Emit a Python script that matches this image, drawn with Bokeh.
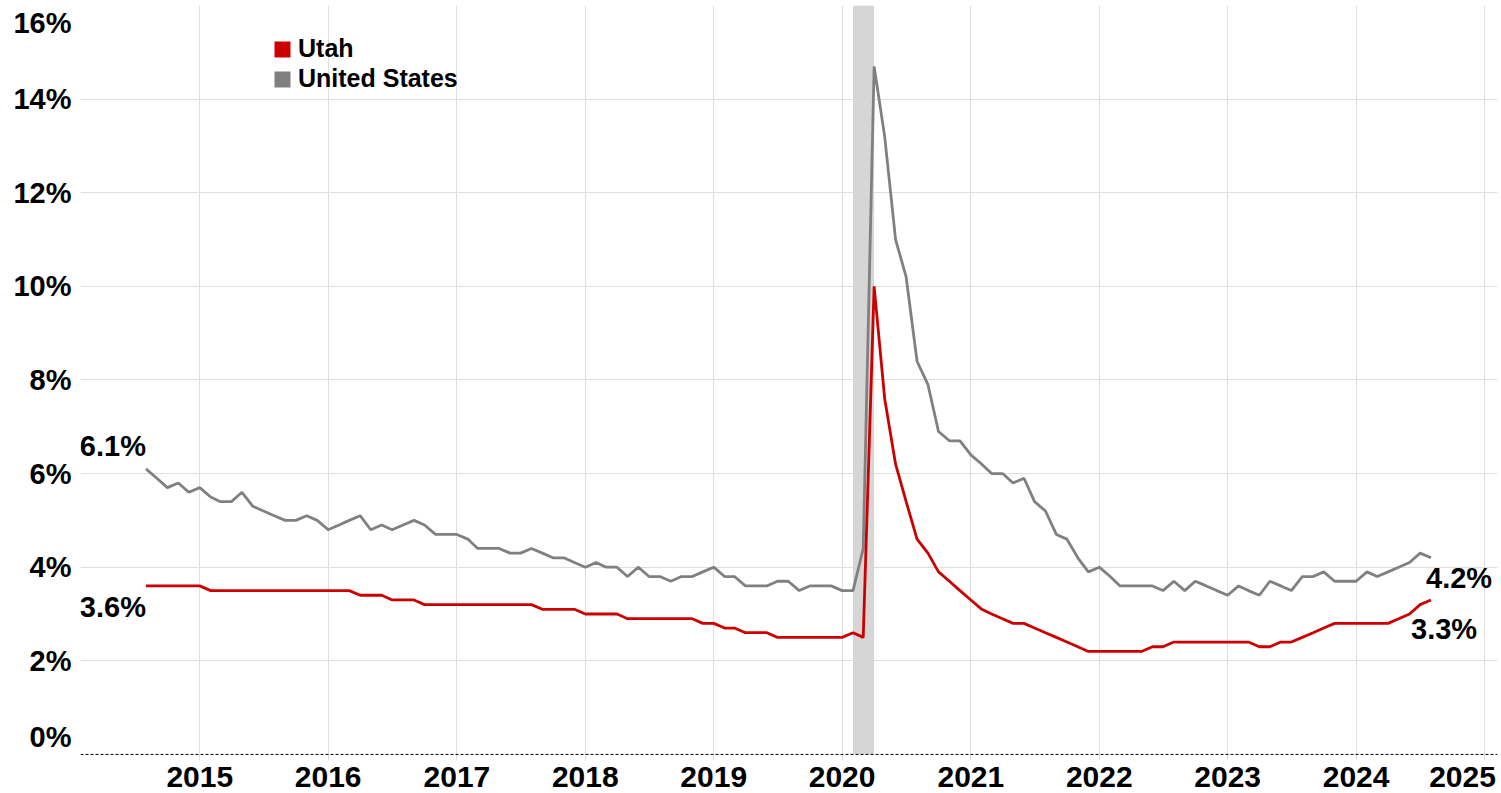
import numpy as np
import pandas as pd
from bokeh.plotting import figure
from bokeh.models import (Range1d, FixedTicker, DatetimeTickFormatter, PrintfTickFormatter,
                          Span, Label, Legend, LegendItem, ColumnDataSource)
from bokeh.embed import file_html
from bokeh.resources import INLINE

# ---------------- data ----------------
start_month = "2014-08-01"
end_month = "2024-08-01"

us_rate = [
    6.1, 5.9, 5.7, 5.8, 5.6,
    5.7, 5.5, 5.4, 5.4, 5.6, 5.3, 5.2, 5.1, 5.0, 5.0, 5.1, 5.0,
    4.8, 4.9, 5.0, 5.1, 4.8, 4.9, 4.8, 4.9, 5.0, 4.9, 4.7, 4.7,
    4.7, 4.6, 4.4, 4.4, 4.4, 4.3, 4.3, 4.4, 4.3, 4.2, 4.2, 4.1,
    4.0, 4.1, 4.0, 4.0, 3.8, 4.0, 3.8, 3.8, 3.7, 3.8, 3.8, 3.9,
    4.0, 3.8, 3.8, 3.6, 3.6, 3.6, 3.7, 3.7, 3.5, 3.6, 3.6, 3.6,
    3.5, 3.5, 4.4, 14.7, 13.2, 11.0, 10.2, 8.4, 7.9, 6.9, 6.7, 6.7,
    6.4, 6.2, 6.0, 6.0, 5.8, 5.9, 5.4, 5.2, 4.7, 4.6, 4.2, 3.9,
    4.0, 3.8, 3.6, 3.6, 3.6, 3.6, 3.5, 3.7, 3.5, 3.7, 3.6, 3.5,
    3.4, 3.6, 3.5, 3.4, 3.7, 3.6, 3.5, 3.8, 3.8, 3.9, 3.7, 3.7,
    3.7, 3.9, 3.8, 3.9, 4.0, 4.1, 4.3, 4.2,
]

utah_rate = [
    3.6, 3.6, 3.6, 3.6, 3.6,
    3.6, 3.5, 3.5, 3.5, 3.5, 3.5, 3.5, 3.5, 3.5, 3.5, 3.5, 3.5,
    3.5, 3.5, 3.5, 3.4, 3.4, 3.4, 3.3, 3.3, 3.3, 3.2, 3.2, 3.2,
    3.2, 3.2, 3.2, 3.2, 3.2, 3.2, 3.2, 3.2, 3.1, 3.1, 3.1, 3.1,
    3.0, 3.0, 3.0, 3.0, 2.9, 2.9, 2.9, 2.9, 2.9, 2.9, 2.9, 2.8,
    2.8, 2.7, 2.7, 2.6, 2.6, 2.6, 2.5, 2.5, 2.5, 2.5, 2.5, 2.5,
    2.5, 2.6, 2.5, 10.0, 7.6, 6.2, 5.4, 4.6, 4.3, 3.9, 3.7, 3.5,
    3.3, 3.1, 3.0, 2.9, 2.8, 2.8, 2.7, 2.6, 2.5, 2.4, 2.3, 2.2,
    2.2, 2.2, 2.2, 2.2, 2.2, 2.3, 2.3, 2.4, 2.4, 2.4, 2.4, 2.4,
    2.4, 2.4, 2.4, 2.3, 2.3, 2.4, 2.4, 2.5, 2.6, 2.7, 2.8, 2.8,
    2.8, 2.8, 2.8, 2.8, 2.9, 3.0, 3.2, 3.3,
]

series_names = ["Utah", "United States"]
series_colors = ["#cc0000", "#808080"]

recession_start = "2020-02-01"
recession_end = "2020-04-01"

tick_years = list(range(2015, 2026))
y_ticks = [0, 2, 4, 6, 8, 10, 12, 14, 16]

# ---------------- build ----------------
dates = pd.date_range(start_month, end_month, freq="MS")
src = ColumnDataSource(dict(date=dates, us=us_rate, utah=utah_rate))

def ms(ts):
    return float(pd.Timestamp(ts).value // 10**6)

FONT = "Liberation Sans"
W, H = 1501, 793
B_LEFT, B_RIGHT, B_TOP, B_BOTTOM = 80, 4, 5, 33
FRAME_W = W - B_LEFT - B_RIGHT
FRAME_H = H - B_TOP - B_BOTTOM

x_start = ms("2014-01-27")
x_end = ms("2025-02-06")
y_start, y_end = -0.13, 16

p = figure(width=W, height=H, x_axis_type="datetime",
           x_range=Range1d(x_start, x_end), y_range=Range1d(y_start, y_end),
           output_backend="svg", toolbar_location=None,
           min_border_left=B_LEFT, min_border_right=B_RIGHT,
           min_border_top=B_TOP, min_border_bottom=B_BOTTOM)
p.outline_line_color = None
p.background_fill_color = "white"
p.border_fill_color = "white"

# gridlines at true positions
year_ticks = [ms(f"{y}-01-01") for y in tick_years]
p.xgrid.ticker = FixedTicker(ticks=year_ticks)
p.ygrid.ticker = FixedTicker(ticks=y_ticks[1:])
p.xgrid.grid_line_color = "#dedede"
p.ygrid.grid_line_color = "#dedede"

# axis labels; end labels nudged inward so they stay on the canvas
ms_per_px = (x_end - x_start) / FRAME_W
u_per_px = (y_end - y_start) / FRAME_H
last_x_tick = float(round(year_ticks[-1] - 22.3 * ms_per_px))
x_axis_ticks = year_ticks[:-1] + [last_x_tick]
p.xaxis.ticker = FixedTicker(ticks=x_axis_ticks)
p.xaxis.formatter = DatetimeTickFormatter(years="%Y", months="%Y", days="%Y", hours="%Y",
                                          hourmin="%Y", minutes="%Y", minsec="%Y",
                                          seconds="%Y", milliseconds="%Y", microseconds="%Y")
p.xaxis.major_label_overrides = {last_x_tick: str(tick_years[-1])}

top_tick = round(y_ticks[-1] - 17.5 * u_per_px, 4)
bot_tick = round(y_ticks[0] + 17.3 * u_per_px, 4)
y_axis_ticks = [bot_tick] + y_ticks[1:-1] + [top_tick]
p.yaxis.ticker = FixedTicker(ticks=y_axis_ticks)
p.yaxis.formatter = PrintfTickFormatter(format="%d%%")
p.yaxis.major_label_overrides = {bot_tick: f"{y_ticks[0]}%", top_tick: f"{y_ticks[-1]}%"}

for ax in (p.xaxis, p.yaxis):
    ax.axis_line_color = None
    ax.major_tick_line_color = None
    ax.minor_tick_line_color = None
    ax.major_tick_out = 0
    ax.major_tick_in = 0
    ax.minor_tick_out = 0
    ax.minor_tick_in = 0
    ax.major_label_text_font = FONT
    ax.major_label_text_font_style = "bold"
    ax.major_label_text_color = "black"
p.xaxis.major_label_text_font_size = "30px"
p.yaxis.major_label_text_font_size = "29px"
p.xaxis.major_label_standoff = 6
p.yaxis.major_label_standoff = 9

# recession band
p.quad(left=[pd.Timestamp(recession_start)], right=[pd.Timestamp(recession_end)],
       bottom=[0], top=[y_ticks[-1]], fill_color="#d6d6d6", line_color=None)

# zero line
p.add_layout(Span(location=0, dimension="width", line_color="black",
                  line_dash="3 2", line_width=1))

p.line("date", "us", source=src, color=series_colors[1], line_width=2.8)
p.line("date", "utah", source=src, color=series_colors[0], line_width=2.8)

# legend (square swatches)
nan = [np.nan]
sw_utah = p.quad(left=nan, right=nan, top=nan, bottom=nan, fill_color=series_colors[0], line_color=None)
sw_us = p.quad(left=nan, right=nan, top=nan, bottom=nan, fill_color=series_colors[1], line_color=None)
legend = Legend(items=[LegendItem(label=series_names[0], renderers=[sw_utah]),
                       LegendItem(label=series_names[1], renderers=[sw_us])],
                location=(192, 667), glyph_width=20, glyph_height=20, label_standoff=6,
                spacing=1, padding=0, margin=0, border_line_color=None,
                background_fill_alpha=0, label_text_font=FONT,
                label_text_font_size="25px", label_text_font_style="bold",
                label_text_color="black")
p.add_layout(legend)

def lab(text, x, y, align, xo, yo):
    p.add_layout(Label(x=x, y=y, text=text, text_align=align, text_baseline="middle",
                       x_offset=xo, y_offset=yo, text_font=FONT, text_font_size="29px",
                       text_font_style="bold", text_color="black"))

first, last = dates[0], dates[-1]
lab(f"{us_rate[0]}%", ms(first), us_rate[0], "right", 0, 23)
lab(f"{utah_rate[0]}%", ms(first), utah_rate[0], "right", 0, -21)
lab(f"{us_rate[-1]}%", ms(last), us_rate[-1], "left", -5, -20)
lab(f"{utah_rate[-1]}%", ms(last), utah_rate[-1], "left", -20, -29)

open("out.html", "w").write(file_html(p, INLINE))
